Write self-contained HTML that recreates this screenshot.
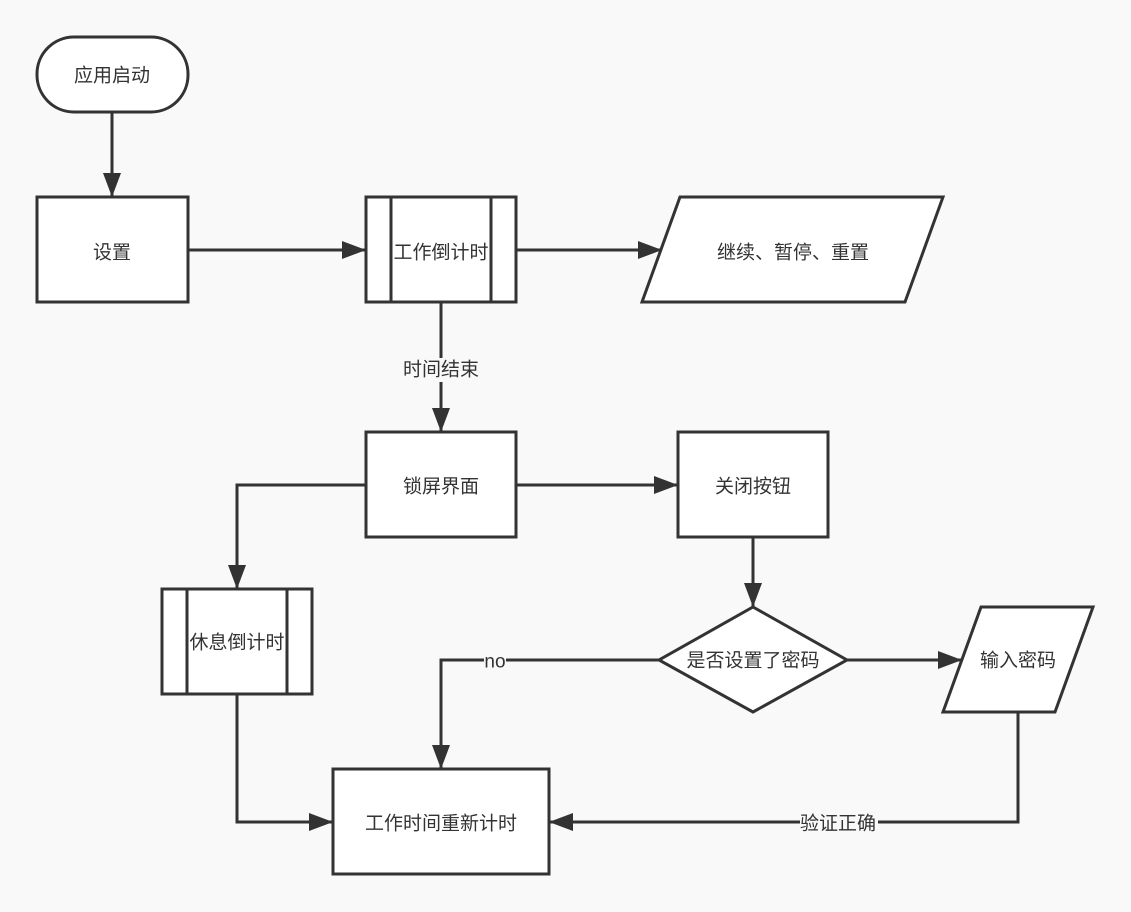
<!DOCTYPE html>
<html><head><meta charset="utf-8"><style>
html,body{margin:0;padding:0;background:#f9f9f9;}
svg{display:block;}
text{font-family:"Liberation Sans","Noto Sans CJK SC",sans-serif;font-size:19px;fill:#333;text-anchor:middle;dominant-baseline:central;}
</style></head><body>
<svg width="1131" height="912" viewBox="0 0 1131 912">
<defs>
<marker id="b" viewBox="0 0 24 18" markerWidth="24" markerHeight="18" refX="24" refY="9" orient="auto" markerUnits="userSpaceOnUse"><path d="M0,0 L24,9 L0,18z" fill="#333"/></marker></defs>
<g fill="#fff" stroke="#333" stroke-width="3">
<rect x="37" y="37" width="151" height="75" rx="37"/>
<rect x="37" y="197" width="151" height="105"/>
<rect x="366" y="197" width="150" height="105"/>
<line x1="391" y1="197" x2="391" y2="302"/><line x1="491" y1="197" x2="491" y2="302"/>
<polygon points="642,302 680,197 943,197 905,302"/>
<rect x="366" y="432" width="150" height="105"/>
<rect x="678" y="432" width="150" height="105"/>
<rect x="162" y="589" width="150" height="105"/>
<line x1="187" y1="589" x2="187" y2="694"/><line x1="287" y1="589" x2="287" y2="694"/>
<polygon points="753,607 847,660 753,712 659,660"/>
<polygon points="943,712 981,607 1093,607 1055,712"/>
<rect x="333" y="769" width="216" height="105"/>
</g>
<g fill="none" stroke="#333" stroke-width="3" marker-end="url(#b)">
<line x1="112" y1="112" x2="112" y2="197"/>
<line x1="188" y1="250" x2="366" y2="250"/>
<line x1="516" y1="250" x2="662" y2="250"/>
<line x1="441" y1="302" x2="441" y2="432"/>
<line x1="516" y1="485" x2="678" y2="485"/>
<polyline points="366,485 237,485 237,589"/>
<line x1="753" y1="537" x2="753" y2="607"/>
<line x1="847" y1="660" x2="962" y2="660"/>
<polyline points="659,660 441,660 441,769"/>
<polyline points="237,694 237,822 333,822"/>
<polyline points="1018,712 1018,822 549,822"/>
</g>
<rect x="400" y="358" width="82" height="24" fill="#f9f9f9"/>
<rect x="484" y="652" width="22" height="20" fill="#f9f9f9"/>
<rect x="800" y="812" width="78" height="24" fill="#f9f9f9"/>
<text x="112" y="76">应用启动</text>
<text x="112" y="253">设置</text>
<text x="441" y="253">工作倒计时</text>
<text x="793" y="253">继续、暂停、重置</text>
<text x="441" y="370">时间结束</text>
<text x="441" y="487">锁屏界面</text>
<text x="753" y="487">关闭按钮</text>
<text x="237" y="643">休息倒计时</text>
<text x="753" y="661">是否设置了密码</text>
<text x="1018" y="661">输入密码</text>
<text x="495" y="662">no</text>
<text x="441" y="824">工作时间重新计时</text>
<text x="838" y="824">验证正确</text>
</svg>
</body></html>
